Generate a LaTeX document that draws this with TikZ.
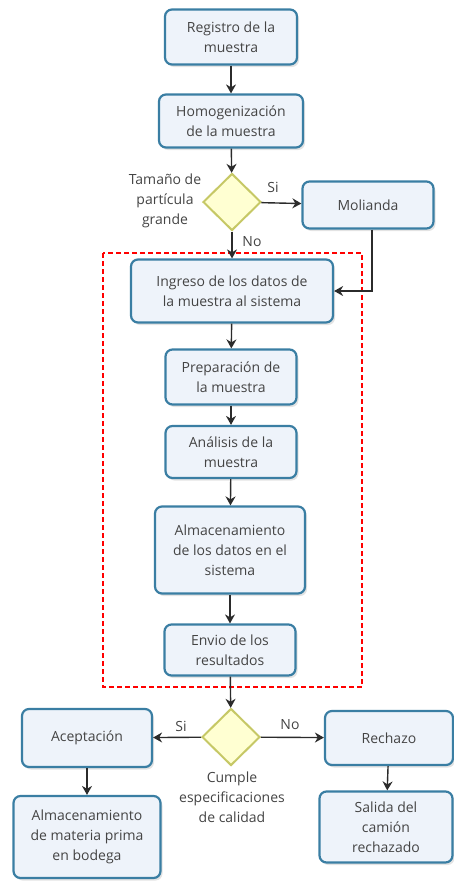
\documentclass[tikz,border=0pt]{standalone}
\usepackage{fontspec}
\setmainfont{Open Sans}
\usetikzlibrary{shapes.geometric,arrows.meta,shadows,calc}
\definecolor{boxline}{HTML}{3A7EA3}
\definecolor{boxfill}{HTML}{EEF3FA}
\definecolor{decline}{HTML}{C6C866}
\definecolor{decfill}{HTML}{FFFFD2}
\definecolor{txt}{HTML}{444444}
\definecolor{linkcol}{HTML}{2B2B2B}
\begin{document}
\begin{tikzpicture}[x=1pt,y=-1pt,
  font=\fontsize{14}{20}\selectfont, text=txt,
  proc/.style={draw=boxline, line width=2.2pt, rounded corners=7pt, fill=boxfill,
    align=center, inner sep=2pt,
    drop shadow={opacity=0.22, shadow xshift=2pt, shadow yshift=-2.5pt}},
  dec/.style={diamond, draw=decline, line width=2pt, fill=decfill,
    minimum width=58pt, minimum height=57pt, inner sep=0pt},
  link/.style={draw=linkcol, line width=1.4pt, -{Stealth[length=9pt,width=10pt]}},
  lab/.style={align=center, inner sep=0pt}]
\useasboundingbox (0,0) rectangle (453,881);

% region covered by the laboratory system
\draw[red, line width=1.6pt, dash pattern=on 5pt off 3pt] (103,253) rectangle (362,687);

% process boxes
\node[proc, minimum width=132pt, minimum height=55pt] (reg) at (231,37) {Registro de la\\muestra};
\node[proc, minimum width=144pt, minimum height=53pt] (hom) at (231,121) {Homogenización\\de la muestra};
\node[dec] (d1) at (232,202) {};
\node[proc, minimum width=131pt, minimum height=47pt] (mol) at (368,205) {Molianda};
\node[proc, minimum width=202pt, minimum height=63pt] (ing) at (232,291) {Ingreso de los datos de\\la muestra al sistema};
\node[proc, minimum width=131pt, minimum height=55pt] (pre) at (231,377) {Preparación de\\la muestra};
\node[proc, minimum width=131pt, minimum height=52pt] (ana) at (231,452) {Análisis de la\\muestra};
\node[proc, minimum width=150pt, minimum height=87pt] (alm) at (230,550) {Almacenamiento\\de los datos en el\\sistema};
\node[proc, minimum width=131pt, minimum height=51pt] (env) at (230,650) {Envio de los\\resultados};
\node[dec] (d2) at (231,737) {};
\node[proc, minimum width=130pt, minimum height=58pt] (ace) at (87,738) {Aceptación};
\node[proc, minimum width=128pt, minimum height=54pt] (rec) at (389,738) {Rechazo};
\node[proc, minimum width=147pt, minimum height=82pt] (amp) at (87,837) {Almacenamiento\\de materia prima\\en bodega};
\node[proc, minimum width=133pt, minimum height=71pt] (sal) at (386,827) {Salida del\\camión\\rechazado};

% decision texts and branch labels
\node[lab] (q1) at (165,201) {Tamaño de\\partícula\\grande};
\node[lab] (si1) at (273,187) {Si};
\node[lab] (no1) at (252,242) {No};
\node[lab] (q2) at (232,797) {Cumple\\especificaciones\\de calidad};
\node[lab] (si2) at (181,726) {Si};
\node[lab] (no2) at (290,725) {No};

% connectors
\draw[link] (reg) -- (hom);
\draw[link] (hom) -- (d1);
\draw[link] (d1) -- (mol);
\draw[link] (d1) -- (ing);
\draw[link] ($(mol.south)+(4,0)$) |- (ing.east);
\draw[link] (ing) -- (pre);
\draw[link] (pre) -- (ana);
\draw[link] (ana) -- (alm);
\draw[link] (alm) -- (env);
\draw[link] (env) -- (d2);
\draw[link] (d2) -- (ace);
\draw[link] (d2) -- (rec);
\draw[link] (ace) -- (amp);
\draw[link] (rec) -- (sal);
\end{tikzpicture}
\end{document}
